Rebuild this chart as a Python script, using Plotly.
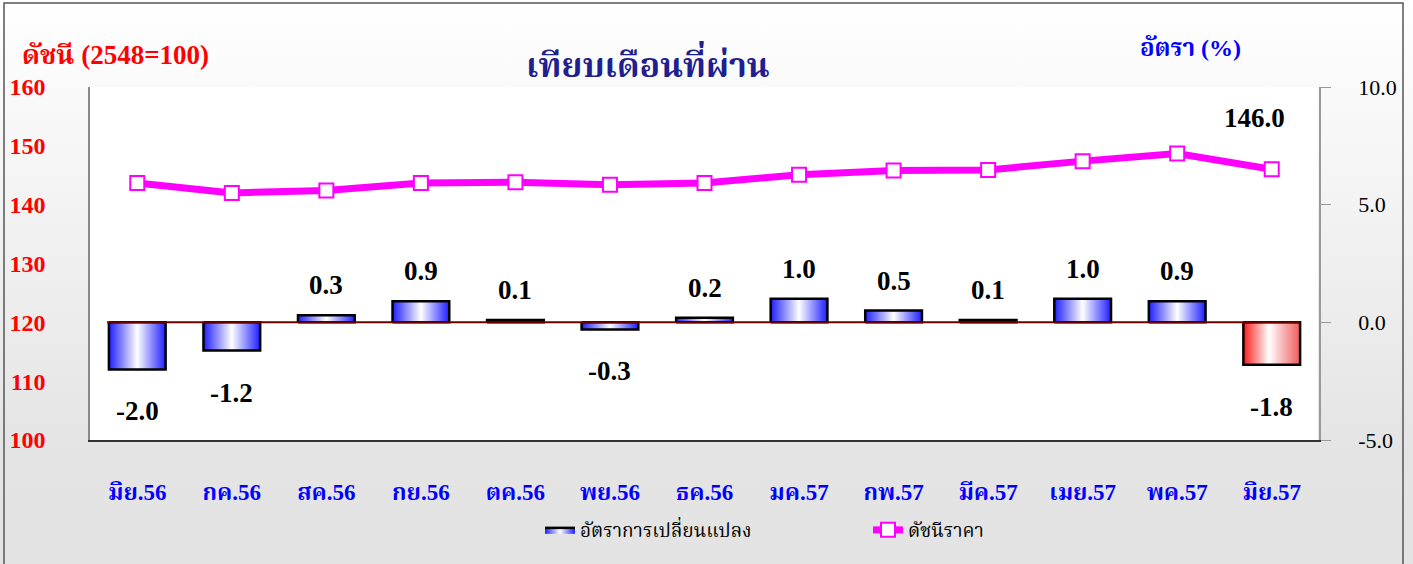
import base64
import plotly.graph_objects as go

months = ["มิย.56", "กค.56", "สค.56", "กย.56", "ตค.56", "พย.56", "ธค.56",
          "มค.57", "กพ.57", "มีค.57", "เมย.57", "พค.57", "มิย.57"]
index_values = [143.7, 142.0, 142.4, 143.7, 143.8, 143.4, 143.7,
                145.1, 145.8, 145.9, 147.4, 148.7, 146.0]
rate_values = [-2.0, -1.2, 0.3, 0.9, 0.1, -0.3, 0.2, 1.0, 0.5, 0.1, 1.0, 0.9, -1.8]
left_ticks = [100, 110, 120, 130, 140, 150, 160]
right_ticks = [-5.0, 0.0, 5.0, 10.0]

W, H = 1413, 564
L, R, T, B = 90, 94, 87, 124
PW, PH = W - L - R, H - T - B


def px(x):
    return (x - L) / PW


def py(y):
    return (H - B - y) / PH


SERIF = "Liberation Serif, Noto Serif Thai, Noto Sans Thai, Loma, Garuda, serif"

fig = go.Figure()

half = 0.3
blue_scale = [[0, "#1E1EFF"], [0.5, "#FFFFFF"], [1, "#1E1EFF"]]
red_scale = [[0, "#FF1A1A"], [0.45, "#FFFFFF"], [1, "#F05A5A"]]
n = len(months)
for i, v in enumerate(rate_values):
    last = i == n - 1
    fig.add_trace(go.Scatter(
        x=[i - half, i + half, i + half, i - half, i - half],
        y=[0, 0, v, v, 0],
        yaxis="y2", mode="lines", fill="toself",
        fillgradient=dict(type="horizontal", colorscale=red_scale if last else blue_scale),
        line=dict(color="black", width=2.5),
        name="อัตราการเปลี่ยนแปลง", showlegend=(i == 0), legendgroup="rate",
        hoverinfo="skip",
    ))

# zero line
fig.add_trace(go.Scatter(
    x=[-half - 0.02, n - 1 + half], y=[0, 0], yaxis="y2", mode="lines",
    line=dict(color="#6B0000", width=2), showlegend=False, hoverinfo="skip",
))

fig.add_trace(go.Scatter(
    x=list(range(n)), y=index_values, mode="lines+markers", name="ดัชนีราคา",
    line=dict(color="#FF00FF", width=7),
    marker=dict(symbol="square", size=14, color="white",
                line=dict(color="#FF00FF", width=2)),
))

annotations = []
for i, v in enumerate(rate_values):
    annotations.append(dict(
        x=i, y=v, xref="x", yref="y2", text=f"<b>{v:.1f}</b>", showarrow=False,
        font=dict(family=SERIF, size=27, color="black"),
        yshift=30 if v >= 0 else -42,
    ))
annotations.append(dict(
    x=n - 1, y=index_values[-1], xref="x", yref="y", text=f"<b>{index_values[-1]:.1f}</b>",
    showarrow=False, font=dict(family=SERIF, size=27, color="black"),
    xshift=-17, yshift=51,
))
annotations.append(dict(
    x=px(648), y=py(63), xref="paper", yref="paper", xanchor="center", yanchor="middle",
    text="<b>เทียบเดือนที่ผ่าน</b>",
    showarrow=False, font=dict(family=SERIF, size=34, color="#1F1F8F"),
))
annotations.append(dict(
    x=px(20), y=py(55), xref="paper", yref="paper", xanchor="left", yanchor="middle",
    text="<b>ดัชนี (2548=100)</b>", showarrow=False,
    font=dict(family=SERIF, size=27, color="#FF0000"),
))
annotations.append(dict(
    x=px(1190), y=py(48), xref="paper", yref="paper", xanchor="center", yanchor="middle",
    text="<b>อัตรา (%)</b>", showarrow=False,
    font=dict(family=SERIF, size=24, color="#0000FF"),
))

svg = ('<svg xmlns="http://www.w3.org/2000/svg" width="%d" height="%d">'
       '<defs><linearGradient id="g" x1="0" y1="0" x2="0" y2="1">'
       '<stop offset="0" stop-color="#FFFFFF"/><stop offset="0.8" stop-color="#E4E4E4"/>'
       '<stop offset="1" stop-color="#E3E3E3"/></linearGradient></defs>'
       '<rect width="%d" height="%d" fill="url(#g)"/>'
       '<rect x="%d" y="%d" width="%d" height="%d" fill="#FFFFFF"/></svg>'
       % (W, H, W, H, L, T, PW - 1, PH))
src = "data:image/svg+xml;base64," + base64.b64encode(svg.encode()).decode()

fig.update_layout(
    width=W, height=H,
    margin=dict(l=L, r=R, t=T, b=B, autoexpand=False),
    paper_bgcolor="#E8E8E8", plot_bgcolor="rgba(0,0,0,0)",
    images=[dict(source=src, xref="paper", yref="paper", x=px(0), y=py(0),
                 sizex=W / PW, sizey=H / PH, sizing="stretch", layer="below",
                 xanchor="left", yanchor="top")],
    shapes=[dict(type="rect", xref="paper", yref="paper", x0=px(4), x1=px(1403),
                 y0=py(566), y1=py(3), line=dict(color="#555555", width=1.5),
                 fillcolor="rgba(0,0,0,0)", layer="above")],
    xaxis=dict(range=[-0.5, n - 0.5], tickvals=list(range(n)),
               ticktext=[f"<b>{m}</b>" for m in months],
               tickfont=dict(family=SERIF, size=23, color="#0000FF"),
               showgrid=False, zeroline=False, showline=True, linecolor="#333333",
               linewidth=1.5, ticks="", ticklabelstandoff=31),
    yaxis=dict(range=[100, 160], tickvals=left_ticks,
               ticktext=[f"<b>{t}</b>" for t in left_ticks],
               tickfont=dict(family=SERIF, size=24, color="#FF0000"),
               showgrid=False, zeroline=False, showline=True, linecolor="#888888",
               linewidth=1.5, ticks="", ticklabelstandoff=38),
    yaxis2=dict(range=[-5, 10], tickvals=right_ticks,
                ticktext=[f"{t:.1f}" for t in right_ticks], overlaying="y", side="right",
                tickfont=dict(family=SERIF, size=22, color="black"),
                showgrid=False, zeroline=False, showline=True, linecolor="#999999",
                linewidth=1.5, ticks="outside", ticklen=10, tickcolor="#999999",
                ticklabelstandoff=23),
    legend=dict(orientation="h", x=px(540), y=py(530), xanchor="left", yanchor="middle",
                font=dict(family=SERIF, size=19, color="black"),
                entrywidth=283, bgcolor="rgba(0,0,0,0)"),
    annotations=annotations,
    showlegend=True,
)

fig.write_html("out.html", config={"displayModeBar": False},
               post_script="document.body.style.margin='0px';")
